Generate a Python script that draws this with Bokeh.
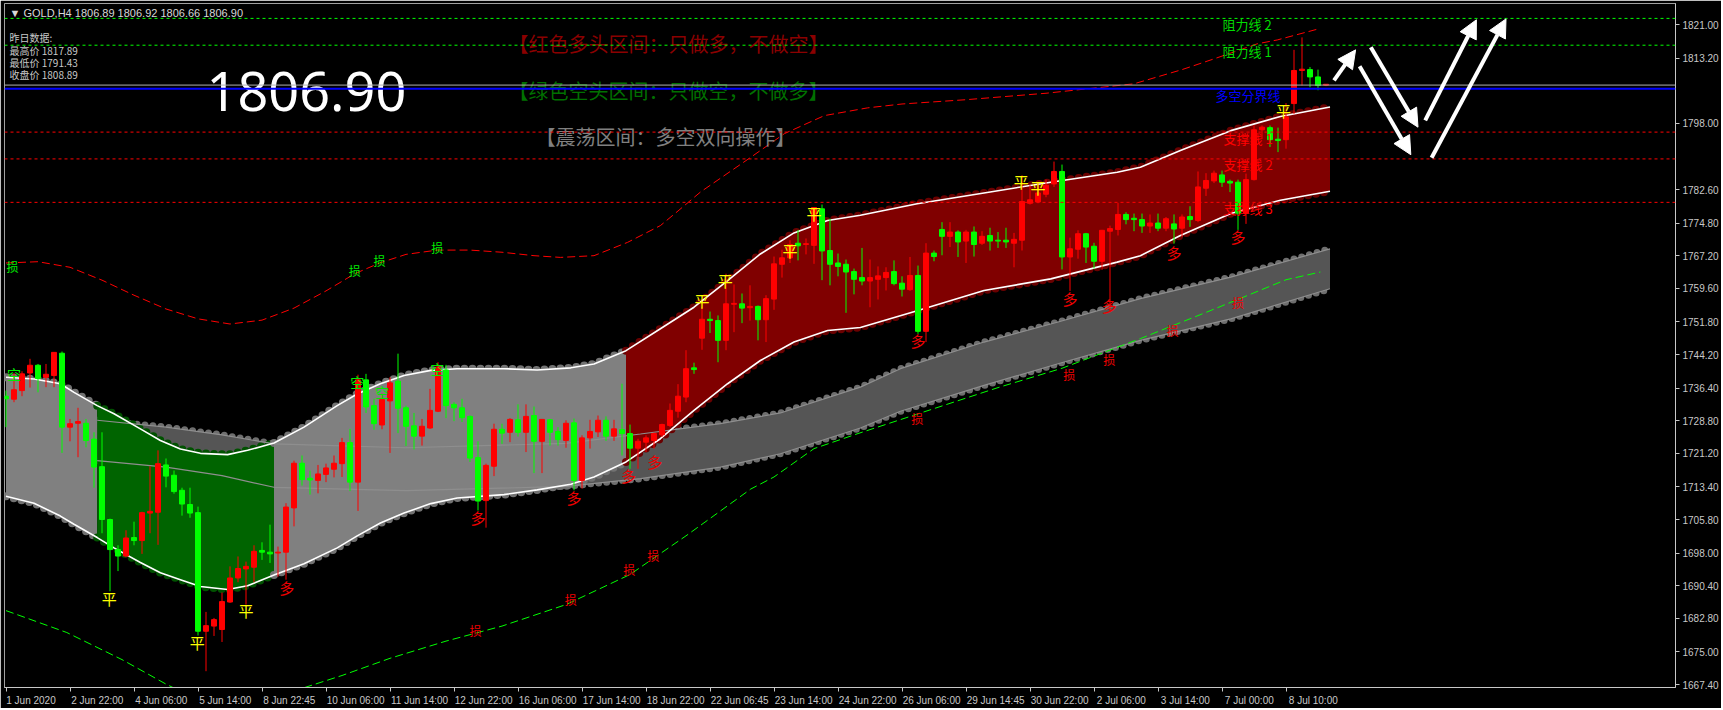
from bokeh.plotting import figure
from bokeh.models import (Range1d, FixedTicker, NumeralTickFormatter, Label, Span,
                          Arrow, NormalHead, ColumnDataSource)
from bokeh.core.properties import value
from bokeh.embed import file_html
from bokeh.resources import INLINE

# ---------------- data (GOLD, H4) ----------------
opens = [1734.5, 1733.8, 1735.8, 1739.9, 1741.7, 1738.9, 1739.3, 1744.5, 1727.3, 1728.2,
         1728.2, 1724.5, 1718.1, 1705.8, 1698.8, 1697.3, 1701.6, 1700.9, 1707.3, 1707.5,
         1718.5, 1716.1, 1712.6, 1709.3, 1707.4, 1679.8, 1681.0, 1680.2, 1686.6, 1692.2,
         1694.3, 1694.7, 1698.6, 1698.2, 1698.0, 1698.2, 1708.5, 1718.9, 1715.4, 1714.9,
         1716.3, 1717.5, 1718.8, 1723.7, 1714.5, 1738.3, 1732.3, 1727.8, 1733.4, 1738.0,
         1731.8, 1727.6, 1725.2, 1727.1, 1731.0, 1740.6, 1732.6, 1731.8, 1729.8, 1720.2,
         1710.2, 1718.2, 1726.8, 1726.1, 1729.0, 1726.1, 1730.0, 1724.0, 1729.0, 1726.3,
         1724.2, 1728.3, 1714.9, 1724.8, 1726.2, 1728.9, 1725.2, 1726.7, 1725.8, 1722.4,
         1723.8, 1724.2, 1725.5, 1727.7, 1731.0, 1734.3, 1741.1, 1748.0, 1752.4, 1752.1,
         1747.5, 1755.9, 1756.0, 1755.1, 1755.4, 1752.3, 1757.1, 1765.2, 1766.7, 1770.1,
         1769.8, 1769.6, 1778.1, 1768.4, 1765.5, 1765.2, 1763.5, 1762.1, 1761.3, 1761.7,
         1762.1, 1763.5, 1760.8, 1759.3, 1762.6, 1749.6, 1767.8, 1773.3, 1771.7, 1772.7,
         1770.6, 1772.7, 1770.1, 1771.9, 1770.8, 1770.8, 1770.1, 1770.8, 1779.4, 1779.7,
         1781.5, 1783.9, 1786.8, 1766.9, 1768.7, 1772.3, 1769.4, 1765.9, 1772.9, 1773.3,
         1776.8, 1775.9, 1775.6, 1774.1, 1774.8, 1773.6, 1774.6, 1773.6, 1776.3, 1775.4,
         1782.9, 1784.6, 1786.0, 1784.5, 1784.3, 1777.1, 1784.9, 1796.5, 1797.0, 1794.3,
         1794.2, 1802.6, 1810.3, 1810.5, 1808.8, 1806.89]
highs = [1735.8, 1739.9, 1740.3, 1743.2, 1742.0, 1742.0, 1744.7, 1744.9, 1729.2, 1731.8,
         1729.2, 1726.1, 1726.1, 1706.0, 1699.8, 1703.3, 1705.3, 1707.6, 1718.2, 1721.9,
         1720.0, 1717.2, 1713.2, 1713.2, 1708.8, 1684.3, 1682.9, 1688.8, 1694.9, 1697.2,
         1696.0, 1699.8, 1700.5, 1704.6, 1699.5, 1709.6, 1719.5, 1720.7, 1717.2, 1718.5,
         1718.8, 1720.7, 1724.8, 1726.9, 1739.5, 1739.7, 1733.9, 1735.1, 1738.9, 1744.4,
         1732.3, 1730.6, 1729.2, 1736.2, 1742.4, 1741.8, 1733.1, 1733.9, 1730.0, 1724.0,
         1718.8, 1728.1, 1728.1, 1729.4, 1732.6, 1732.6, 1732.1, 1729.2, 1729.2, 1727.3,
         1728.9, 1729.3, 1725.4, 1729.0, 1730.0, 1729.8, 1729.0, 1737.4, 1727.9, 1724.6,
         1725.4, 1726.0, 1728.1, 1732.8, 1737.3, 1745.2, 1742.3, 1755.2, 1754.2, 1753.3,
         1763.0, 1760.5, 1758.4, 1760.3, 1755.6, 1758.0, 1767.0, 1768.6, 1770.8, 1773.2,
         1771.2, 1778.5, 1779.1, 1775.8, 1767.7, 1766.3, 1764.2, 1769.0, 1766.3, 1764.7,
         1764.5, 1766.1, 1762.4, 1766.9, 1764.9, 1770.1, 1768.4, 1775.0, 1775.0, 1773.1,
         1773.2, 1774.0, 1772.9, 1773.7, 1772.7, 1773.7, 1772.5, 1785.9, 1783.6, 1784.3,
         1784.9, 1789.1, 1788.4, 1771.4, 1773.1, 1772.5, 1770.2, 1773.2, 1774.2, 1779.5,
         1777.3, 1777.0, 1777.0, 1776.8, 1777.0, 1776.2, 1776.8, 1776.8, 1778.7, 1786.8,
         1786.4, 1787.0, 1787.0, 1784.9, 1784.9, 1786.3, 1797.5, 1797.5, 1797.5, 1797.0,
         1802.7, 1815.1, 1818.0, 1811.1, 1810.5, 1806.92]
lows = [1727.3, 1733.1, 1734.5, 1736.5, 1735.4, 1736.6, 1736.6, 1721.3, 1724.0, 1720.3,
        1722.6, 1713.2, 1702.6, 1689.1, 1693.8, 1697.0, 1699.8, 1697.8, 1702.6, 1699.9,
        1713.3, 1711.8, 1706.7, 1706.2, 1678.8, 1670.5, 1678.7, 1677.3, 1686.4, 1691.2,
        1686.0, 1691.2, 1696.4, 1695.7, 1692.5, 1691.8, 1704.2, 1713.7, 1711.6, 1711.9,
        1714.5, 1715.6, 1715.7, 1712.4, 1707.8, 1730.6, 1726.7, 1726.8, 1721.3, 1725.9,
        1722.9, 1722.1, 1723.0, 1726.9, 1730.8, 1729.4, 1728.7, 1728.5, 1719.2, 1707.9,
        1703.9, 1715.9, 1723.4, 1723.8, 1725.1, 1721.5, 1716.6, 1716.6, 1723.0, 1723.0,
        1722.5, 1712.6, 1713.0, 1722.3, 1725.0, 1724.1, 1724.1, 1720.7, 1717.6, 1717.6,
        1721.5, 1722.3, 1725.0, 1727.3, 1729.5, 1733.1, 1739.7, 1745.3, 1749.2, 1742.4,
        1745.2, 1749.4, 1751.5, 1752.1, 1747.5, 1747.1, 1754.6, 1762.1, 1765.5, 1766.1,
        1767.5, 1765.3, 1761.5, 1760.3, 1762.4, 1753.9, 1758.2, 1760.3, 1755.2, 1757.0,
        1759.1, 1760.3, 1757.7, 1759.0, 1749.0, 1747.1, 1765.9, 1767.3, 1769.2, 1766.9,
        1765.5, 1767.0, 1769.7, 1768.4, 1769.0, 1769.0, 1764.5, 1768.4, 1779.1, 1779.4,
        1780.8, 1783.2, 1764.0, 1759.0, 1766.5, 1765.5, 1764.2, 1763.9, 1754.1, 1771.9,
        1774.5, 1772.9, 1772.5, 1772.5, 1772.9, 1772.9, 1770.0, 1771.5, 1773.9, 1775.0,
        1781.1, 1784.1, 1783.2, 1782.0, 1773.2, 1774.6, 1784.7, 1794.4, 1792.5, 1791.3,
        1792.1, 1800.2, 1806.8, 1806.4, 1805.7, 1806.66]
closes = [1733.9, 1736.0, 1739.7, 1741.7, 1738.6, 1739.6, 1744.7, 1727.3, 1728.1, 1728.6,
          1724.2, 1718.0, 1705.8, 1698.8, 1697.3, 1701.5, 1700.9, 1707.4, 1707.7, 1718.8,
          1715.9, 1712.3, 1709.4, 1707.3, 1679.8, 1681.1, 1682.5, 1686.7, 1692.2, 1694.4,
          1694.9, 1698.4, 1698.2, 1697.8, 1698.2, 1708.7, 1718.9, 1715.1, 1715.0, 1716.4,
          1717.8, 1718.9, 1723.7, 1714.5, 1738.3, 1732.0, 1728.1, 1733.7, 1737.6, 1731.7,
          1727.5, 1725.2, 1727.5, 1731.2, 1741.3, 1732.3, 1731.8, 1729.5, 1720.1, 1710.1,
          1718.4, 1726.8, 1725.9, 1729.1, 1726.1, 1729.8, 1724.0, 1729.1, 1726.1, 1724.4,
          1728.2, 1714.9, 1724.8, 1726.3, 1728.9, 1725.2, 1726.9, 1725.8, 1722.4, 1724.0,
          1724.8, 1725.8, 1727.9, 1731.2, 1734.5, 1740.9, 1740.7, 1752.4, 1752.1, 1747.5,
          1756.0, 1756.0, 1755.0, 1755.4, 1752.3, 1757.2, 1765.3, 1766.7, 1769.8, 1769.5,
          1770.0, 1778.4, 1768.3, 1765.2, 1764.7, 1763.4, 1761.7, 1761.3, 1762.1, 1762.5,
          1763.3, 1760.7, 1759.4, 1762.6, 1749.6, 1767.8, 1767.0, 1771.7, 1772.7, 1770.4,
          1772.7, 1769.8, 1771.7, 1770.6, 1770.6, 1770.4, 1771.0, 1779.8, 1780.2, 1781.8,
          1783.6, 1786.8, 1766.9, 1768.8, 1772.3, 1769.2, 1765.9, 1773.1, 1773.5, 1776.8,
          1775.6, 1775.6, 1774.1, 1774.8, 1773.6, 1775.8, 1773.4, 1776.2, 1775.6, 1783.2,
          1784.7, 1786.4, 1784.3, 1784.1, 1777.1, 1784.9, 1796.5, 1797.1, 1794.2, 1794.0,
          1799.5, 1810.3, 1810.6, 1808.8, 1806.8, 1806.90]

x_tick_labels = ["1 Jun 2020", "2 Jun 22:00", "4 Jun 06:00", "5 Jun 14:00", "8 Jun 22:45",
                 "10 Jun 06:00", "11 Jun 14:00", "12 Jun 22:00", "16 Jun 06:00", "17 Jun 14:00",
                 "18 Jun 22:00", "22 Jun 06:45", "23 Jun 14:00", "24 Jun 22:00", "26 Jun 06:00",
                 "29 Jun 14:45", "30 Jun 22:00", "2 Jul 06:00", "3 Jul 14:00", "7 Jul 00:00",
                 "8 Jul 10:00"]
x_tick_bars = [0, 8, 16, 24, 32, 40, 48, 56, 64, 72, 80, 88, 96, 104, 112, 120, 128, 136,
               144, 152, 160]
y_ticks = [1821.0, 1813.2, 1798.0, 1782.6, 1774.8, 1767.2, 1759.6, 1751.8, 1744.2, 1736.4,
           1728.8, 1721.2, 1713.4, 1705.8, 1698.0, 1690.4, 1682.8, 1675.0, 1667.4]

# channel (white envelope)
band_x = [0, 3.5, 6.8, 8.5, 11.4, 13.5, 16.8, 19.3, 21.8, 24.3, 27.7, 30.2, 33.5, 37.25, 41.4,
          43.9, 46.8, 49.75, 53.1, 56.4, 62.25, 66.4, 70.6, 73.5, 77.5, 81.8, 86.0, 90.2, 94.3,
          98.5, 102.7, 106.8, 113.9, 122.25, 130.6, 138.9, 141.8, 146.8, 153.1, 159.3, 165.5]
band_upper = [1738.9, 1738.5, 1737.4, 1735.4, 1732.3, 1730.4, 1726.9, 1724.2, 1722.2, 1721.2,
              1720.9, 1721.9, 1723.6, 1727.3, 1732.3, 1735.0, 1737.4, 1739.3, 1740.5, 1740.9,
              1740.9, 1740.6, 1741.1, 1742.0, 1745.1, 1750.2, 1755.2, 1761.4, 1767.6, 1772.5,
              1775.4, 1776.6, 1779.3, 1781.8, 1784.3, 1786.6, 1787.8, 1791.7, 1796.3, 1799.6,
              1801.8]
band_lower = [1711.2, 1709.6, 1706.6, 1704.7, 1701.6, 1699.2, 1695.8, 1693.4, 1691.8, 1690.2,
              1689.5, 1690.4, 1692.9, 1695.5, 1699.2, 1702.0, 1705.0, 1707.3, 1709.5, 1710.8,
              1711.6, 1712.7, 1714.0, 1715.7, 1719.2, 1724.6, 1731.2, 1737.4, 1742.8, 1747.1,
              1749.8, 1750.5, 1754.4, 1759.1, 1761.8, 1765.7, 1767.2, 1771.9, 1777.0, 1780.1,
              1782.2]
zone_start = [0, 11.4, 33.5, 77.5]
zone_end = [11.4, 33.5, 77.5, 165.5]
zone_fill = ["#808080", "#006400", "#808080", "#800000"]
zone_edge = ["#727272", "#005200", "#727272", "#6a0000"]

# slower channel (dark grey)
dark_x = [11.4, 20, 27, 33.5, 50, 70, 79.3, 89.3, 96.8, 106.8, 111.8, 122.25, 131.4, 141.8,
          153.1, 165.5]
dark_upper = [1728.9, 1727.3, 1725.5, 1723.4, 1722.5, 1723.5, 1725.7, 1728.1, 1730.6, 1736.6,
              1740.9, 1747.1, 1751.7, 1757.2, 1762.2, 1768.8]
dark_lower = [1719.5, 1718.0, 1716.0, 1713.3, 1712.5, 1713.5, 1715.3, 1718.0, 1721.1, 1727.1,
              1731.0, 1737.0, 1742.0, 1747.5, 1752.5, 1759.5]

# outer dashed curves
red_curve_x = [0, 4, 8, 12, 16, 20, 24, 28, 32, 36, 40, 43.6, 46.7, 50, 53.9, 58, 62, 66, 69.3,
               73.5, 77.7, 81.8, 84, 86.8, 93.1, 97.3, 102.3, 107.7, 112, 120, 130, 141, 147,
               151, 156.4, 158.9, 164.1]
red_curve_y = [1765.5, 1765.8, 1764.5, 1761.5, 1758.0, 1754.8, 1752.5, 1751.3, 1752.2, 1755.0,
               1759.0, 1763.0, 1765.5, 1767.5, 1768.5, 1768.5, 1768.0, 1767.2, 1766.8, 1767.2,
               1770.3, 1774.2, 1777.6, 1782.0, 1790.1, 1795.6, 1799.8, 1801.6, 1802.5, 1803.5,
               1805.0, 1807.2, 1810.5, 1813.0, 1816.5, 1817.4, 1820.0]
green_curve_x = [0, 7.6, 14.5, 20, 26, 32, 37, 42, 48, 55, 62, 70, 78, 85, 93.1, 96, 101, 106.5,
                 115, 124, 132, 141.8, 150, 160, 164.3]
green_curve_y = [1684.6, 1679.5, 1673.2, 1667.5, 1662.0, 1662.5, 1666.5, 1669.5, 1673.5, 1677.5,
                 1681.0, 1686.0, 1693.0, 1702.0, 1712.9, 1715.7, 1722.3, 1725.8, 1731.0, 1736.5,
                 1741.0, 1747.9, 1754.0, 1761.6, 1763.4]

# horizontal levels
level_values = [1822.42, 1816.18, 1806.07, 1795.96, 1789.72, 1779.61]
level_colors = ["#00ff00", "#00ff00", "#0000ff", "#ff0000", "#ff0000", "#ff0000"]
level_names = ["阻力线 2", "阻力线 1", "多空分界线", "支撑线 1", "支撑线 2", "支撑线 3"]
level_text_colors = ["#00dd00", "#00dd00", "#0000ff", "#ff0000", "#ff0000", "#ff0000"]
bid_price = 1806.90

# signal marks
duo_x = [35.1, 59.0, 71.0, 77.8, 81.1, 114.0, 133.0, 137.9, 146.0, 154.0]
duo_y = [1690.0, 1706.3, 1711.0, 1716.0, 1719.3, 1747.4, 1757.2, 1755.5, 1768.0, 1771.6]
sun_red_x = [58.7, 70.6, 77.9, 80.9, 113.9, 132.9, 137.9, 145.8, 154.0]
sun_red_y = [1680.0, 1687.2, 1694.1, 1697.4, 1729.4, 1739.6, 1743.0, 1749.9, 1756.3]
sun_green_x = [0.8, 43.6, 46.7, 53.9]
sun_green_y = [1764.7, 1763.7, 1766.0, 1769.0]
ping_x = [12.9, 23.9, 30.0, 87.0, 89.9, 98.0, 101.0, 126.9, 129.0, 159.7]
ping_y = [1687.4, 1677.2, 1684.6, 1756.8, 1761.4, 1768.5, 1777.0, 1784.4, 1783.0, 1801.0]
kong_x = [1.0, 43.9, 47.0, 53.9]
kong_y = [1739.7, 1737.8, 1735.4, 1740.9]

# projected path arrows (bar, price)
arrow_x0 = [166.0, 170.6, 169.2, 177.4, 178.2]
arrow_y0 = [1808.0, 1815.7, 1811.3, 1798.7, 1790.0]
arrow_x1 = [168.7, 176.5, 175.6, 183.8, 187.5]
arrow_y1 = [1815.1, 1797.1, 1790.7, 1822.1, 1822.3]

CJK = "Noto Sans CJK SC"
LAT = "Liberation Sans"
AXC = "#c8c8c8"

# reference-pixel -> data helpers for free-floating annotation text
def X(px):
    return (px - 5.5) / 8.0

def Y(py):
    return 1821.0 - (py - 24.0) / 4.297

FL, FT = 4, 3            # frame offset (window border)
FW, FH = 1671, 684       # frame size in pixels
XS = X(FL)
YB = Y(FT + FH)
p = figure(frame_width=FW, frame_height=FH, x_range=Range1d(XS, XS + FW / 8.0),
           y_range=Range1d(YB, YB + FH / 4.297), y_axis_location="right",
           output_backend="svg", toolbar_location=None, title=None,
           min_border_left=FL, min_border_right=0, min_border_top=FT, min_border_bottom=0,
           background_fill_color="#000000", border_fill_color="#000000",
           outline_line_color="#a0a0a0")
p.xgrid.visible = False
p.ygrid.visible = False

# axes
p.yaxis.ticker = FixedTicker(ticks=y_ticks)
p.yaxis.formatter = NumeralTickFormatter(format="0.00")
p.yaxis.axis_line_color = AXC
p.yaxis.major_tick_line_color = AXC
p.yaxis.major_tick_out = 4
p.yaxis.major_tick_in = 0
p.yaxis.minor_tick_line_color = None
p.yaxis.major_label_text_color = AXC
p.yaxis.major_label_text_font = LAT
p.yaxis.major_label_text_font_size = "10px"
p.yaxis.major_label_standoff = 3

centers = [round(b + (2 + 4.6 * len(t) / 2.0) / 8.0, 3) for b, t in zip(x_tick_bars, x_tick_labels)]
p.xaxis.ticker = FixedTicker(ticks=centers, minor_ticks=x_tick_bars)
p.xaxis.major_label_overrides = {c: t for c, t in zip(centers, x_tick_labels)}
p.xaxis.axis_line_color = AXC
p.xaxis.major_tick_line_color = None
p.xaxis.major_tick_out = 0
p.xaxis.major_tick_in = 0
p.xaxis.minor_tick_line_color = AXC
p.xaxis.minor_tick_out = 4
p.xaxis.minor_tick_in = 0
p.xaxis.major_label_text_color = AXC
p.xaxis.major_label_text_font = LAT
p.xaxis.major_label_text_font_size = "10px"
p.xaxis.major_label_standoff = 3

# dark (slow) channel
p.line(dark_x, dark_upper, line_color="#6e6e6e", line_width=7, line_dash="0 8", line_cap="round")
p.line(dark_x, dark_lower, line_color="#6e6e6e", line_width=7, line_dash="0 8", line_cap="round")
p.varea(x=dark_x, y1=dark_lower, y2=dark_upper, fill_color="#555555")

# main channel zones
for s, e, fc, ec in zip(zone_start, zone_end, zone_fill, zone_edge):
    idx = [k for k, bx in enumerate(band_x) if s <= bx <= e]
    zx = [band_x[k] for k in idx]
    zu = [band_upper[k] for k in idx]
    zl = [band_lower[k] for k in idx]
    p.line(zx, zu, line_color=ec, line_width=8, line_dash="0 8", line_cap="round")
    p.line(zx, zl, line_color=ec, line_width=8, line_dash="0 8", line_cap="round")
    p.varea(x=zx, y1=zl, y2=zu, fill_color=fc)

p.line(dark_x, dark_upper, line_color="#8e8e8e", line_width=1.2)
p.line(dark_x, dark_lower, line_color="#8e8e8e", line_width=1.2)
p.line(band_x, band_upper, line_color="white", line_width=1.6)
p.line(band_x, band_lower, line_color="white", line_width=1.6)

# outer dashed curves
p.line(red_curve_x, red_curve_y, line_color="#ff0000", line_width=1, line_dash="8 4")
p.line(green_curve_x, green_curve_y, line_color="#00ff00", line_width=1, line_dash="8 4")

# candles
n = len(opens)
bars = list(range(n))
tops, bots, cols = [], [], []
for o, c in zip(opens, closes):
    lo_, hi_ = min(o, c), max(o, c)
    if hi_ - lo_ < 0.2:
        hi_ = lo_ + 0.2
    tops.append(hi_)
    bots.append(lo_)
    cols.append("#ff0000" if c >= o else "#00ff00")
src = ColumnDataSource(dict(x=bars, h=highs, l=lows, top=tops, bottom=bots, color=cols))
p.segment(x0="x", y0="l", x1="x", y1="h", line_color="color", line_width=1, source=src)
p.vbar(x="x", width=0.62, top="top", bottom="bottom", fill_color="color", line_color="color",
       line_width=1, source=src)

# horizontal levels
p.add_layout(Span(location=bid_price, dimension="width", line_color="#b0b0b0", line_width=1))
for v, c in zip(level_values, level_colors):
    if c == "#0000ff":
        p.add_layout(Span(location=v, dimension="width", line_color=c, line_width=2))
    else:
        p.add_layout(Span(location=v, dimension="width", line_color=c, line_width=1, line_dash="3 3"))

# signal marks
def marks(xs, ys, txt, color, size):
    p.text(x=xs, y=ys, text=[txt] * len(xs), text_color=color, text_font=value(CJK),
           text_font_size=size, text_align="center", text_baseline="middle")

marks(duo_x, duo_y, "多", "#ee0000", "15px")
marks(sun_red_x, sun_red_y, "损", "#ee0000", "12px")
marks(sun_green_x, sun_green_y, "损", "#00ee00", "12px")
marks(ping_x, ping_y, "平", "#ffff00", "15px")
marks(kong_x, kong_y, "空", "#00ee00", "14px")

# level names
name_px = [1222, 1222, 1215, 1223, 1223, 1223]
name_py = [24, 51, 95, 138, 164, 208]
p.text(x=[X(v) for v in name_px], y=[Y(v) for v in name_py], text=level_names,
       text_color=level_text_colors, text_font=value(CJK), text_font_size="13px",
       text_align="left", text_baseline="middle")

# arrows
for a, b, c, d in zip(arrow_x0, arrow_y0, arrow_x1, arrow_y1):
    p.add_layout(Arrow(x_start=a, y_start=b, x_end=c, y_end=d, line_color="white", line_width=4,
                       end=NormalHead(size=18, fill_color="white", line_color="white")))

# header & info texts
p.text(x=[X(9)], y=[Y(12.5)], text=["▼ GOLD,H4  1806.89 1806.92 1806.66 1806.90"],
       text_color="#d8d8d8", text_font=value(LAT), text_font_size="11px",
       text_align="left", text_baseline="middle")
info = ["昨日数据:", "最高价 1817.89", "最低价 1791.43", "收盘价 1808.89"]
p.text(x=[X(9)] * 4, y=[Y(v) for v in [36.5, 49.5, 61.5, 73.5]], text=info, text_color="#c8c8c8",
       text_font=value(CJK), text_font_size="10px", text_align="left", text_baseline="middle")
p.text(x=[X(206)], y=[Y(91)], text=["1806.90"], text_color="white", text_font=value("Noto Sans"),
       text_font_size="54px", text_align="left", text_baseline="middle")
hints = ["【红色多头区间：只做多，不做空】", "【绿色空头区间：只做空，不做多】", "【震荡区间：多空双向操作】"]
p.text(x=[X(508), X(508), X(535)], y=[Y(43), Y(90), Y(136)], text=hints,
       text_color=["#8b0000", "#007000", "#808080"], text_font=value(CJK), text_font_size="20px",
       text_align="left", text_baseline="middle")

# price tags on the right axis
tag_vals = [bid_price] + level_values
tag_cols = ["#a0a0a0"] + level_colors
for v, c in zip(tag_vals, tag_cols):
    p.add_layout(Label(x=XS + FW / 8.0, y=v, x_offset=2, text=f"{v:.2f}", text_font=LAT,
                       text_font_size="10px", text_color="black", text_align="left",
                       text_baseline="middle", background_fill_color=c, padding=1))

open("out.html", "w").write(file_html(p, INLINE))
